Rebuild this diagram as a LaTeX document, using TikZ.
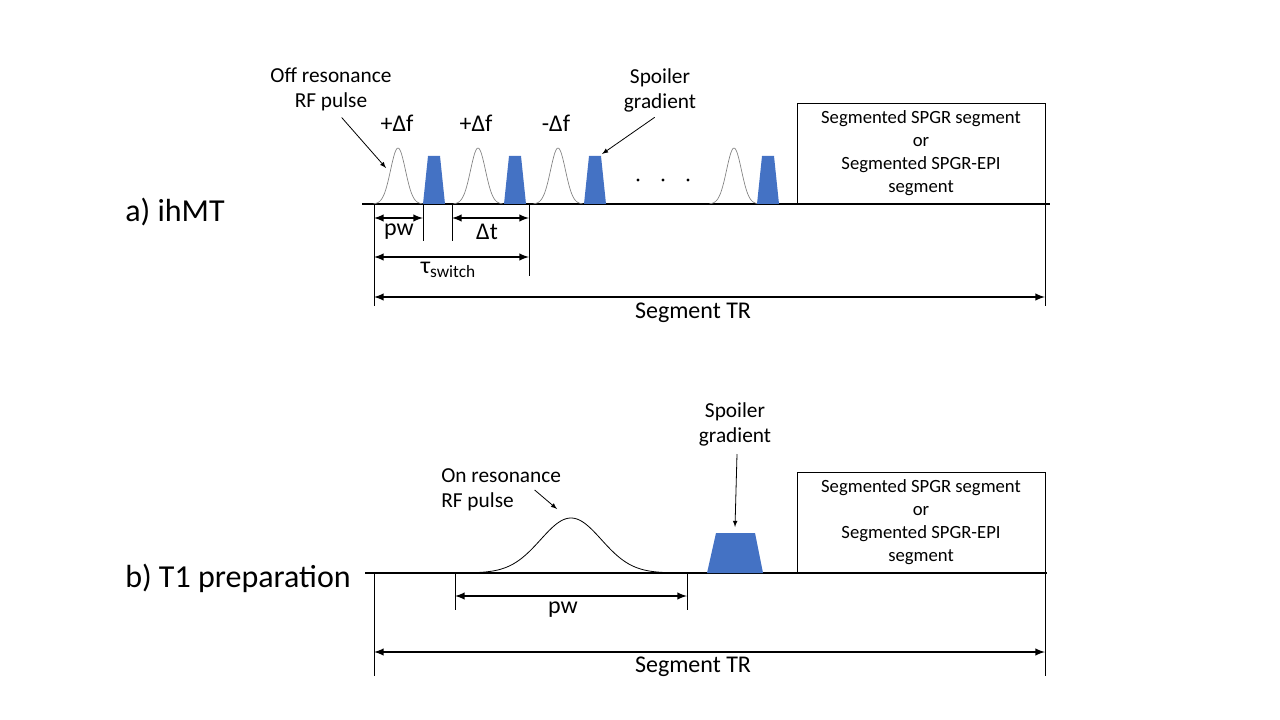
\documentclass[tikz,border=0pt]{standalone}
\usepackage{fontspec}
\setmainfont{Carlito}
\usetikzlibrary{positioning}
\definecolor{spblue}{HTML}{4472C4}

\begin{document}
\begin{tikzpicture}[x=0.75pt,y=-0.75pt]
\tikzset{
    rfpulse/.style  = {gray,line width=0.5pt},
    onpulse/.style  = {black,line width=0.6pt},
    spoiler/.style  = {fill=spblue,draw=none},
    axis/.style     = {line width=0.8pt},
    tick/.style     = {line width=0.6pt},
    dim/.style      = {<->,>=latex,line width=1.5pt},
    pointer/.style  = {->,>=latex,line width=0.6pt},
    lbl/.style      = {font=\fontsize{18}{21}\selectfont,inner sep=0pt,anchor=base},
    note/.style     = {font=\fontsize{16}{18.75}\selectfont,inner sep=0pt,align=center},
    title/.style    = {font=\fontsize{24}{28}\selectfont,inner sep=0pt,anchor=base west},
    segbox/.style   = {draw,line width=0.6pt,minimum width=186pt,minimum height=75.75pt,
                        font=\fontsize{14}{17.25}\selectfont,align=center,inner sep=0pt}
}
\useasboundingbox (0,0) rectangle (1280,720);

%% a) ihMT
\node[title] (titlea) at (125,222) {a) ihMT};
\draw[axis] (362,204) -- (1050,204);

%% off resonance pulses and spoilers
\foreach \c in {398,478,558,734}
    \draw[rfpulse] plot[domain=-24.5:24.5,samples=50] ({\c+\x},{204-56*exp(-(\x/10.5)^2)});
\foreach \g [count=\i] in {434,515,595,768}
{
    \fill[spoiler] (\g-11,204) -- (\g-6,156) -- (\g+6,156) -- (\g+11,204) -- cycle;
    \coordinate (ga\i) at (\g+7,154);
}
\coordinate (pa1) at (386,168);
\foreach \x in {638,663,688}
    \fill (\x,180) circle (1.2pt);

\node[lbl] (dfa) at (397,132) {+Δf};
\node[lbl] (dfb) at (476,132) {+Δf};
\node[lbl] (dfc) at (556,132) {-Δf};

\node[note] (offres) at (331,89) {Off resonance\\RF pulse};
\draw[pointer] ([xshift=8pt,yshift=-5pt]offres.south) -- (pa1);
\node[note] (spoila) at (660,90) {Spoiler\\gradient};
\draw[pointer] ([xshift=-4pt,yshift=-4pt]spoila.south) -- (ga3);

\node[segbox] (boxa) at (921,153.5) {Segmented SPGR segment\\or\\Segmented SPGR-EPI\\segment};

%% timing marks
\coordinate (ta0) at (374,204);
\coordinate (ta1) at (423,204);
\coordinate (ta2) at (452,204);
\coordinate (ta3) at (529,204);
\coordinate (ta4) at (1045,204);
\draw[tick] (ta0) -- ++(0,102);
\draw[tick] (ta1) -- ++(0,37);
\draw[tick] (ta2) -- ++(0,37);
\draw[tick] (ta3) -- ++(0,72);
\draw[tick] (ta4) -- ++(0,102);

\draw[dim] ([yshift=-10.5pt]ta0) -- ([yshift=-10.5pt]ta1);
\draw[dim] ([yshift=-10.5pt]ta2) -- ([yshift=-10.5pt]ta3);
\draw[dim] ([yshift=-39.75pt]ta0) -- ([yshift=-39.75pt]ta3);
\draw[dim] ([yshift=-69.75pt]ta0) -- ([yshift=-69.75pt]ta4);
\node[lbl] (pwa) at (399,236) {pw};
\node[lbl] (dta) at (487,239) {Δt};
\node[lbl] (tswitch) at (448,273) {τ\raisebox{-0.35ex}{\fontsize{13}{15}\selectfont switch}};
\node[lbl] (tra) at (693,318) {Segment TR};

%% b) T1 preparation
\node[title] (titleb) at (125,587) {b) T1 preparation};
\draw[axis] (365,573) -- (1047,573);

\draw[onpulse] plot[domain=-116:116,samples=120] ({571+\x},{573-55*exp(-(\x/43)^2)});
\coordinate (pb1) at (557,509);
\fill[spoiler] (707,573) -- (716,533) -- (755,533) -- (763,573) -- cycle;
\coordinate (gb1) at (735,527);

\node[note] (spoilb) at (735,424) {Spoiler\\gradient};
\draw[pointer] ([xshift=1.5pt,yshift=-6pt]spoilb.south) -- (gb1);
\node[note,align=left,anchor=west] (onres) at (441,490) {On resonance\\RF pulse};
\draw[pointer] ([xshift=-20pt]onres.east) -- (pb1);

\node[segbox] (boxb) at (921,522.5) {Segmented SPGR segment\\or\\Segmented SPGR-EPI\\segment};

\coordinate (tb0) at (374,573);
\coordinate (tb1) at (455,573);
\coordinate (tb2) at (687,573);
\coordinate (tb3) at (1045,573);
\draw[tick] (tb0) -- ++(0,103);
\draw[tick] (tb1) -- ++(0,37);
\draw[tick] (tb2) -- ++(0,37);
\draw[tick] (tb3) -- ++(0,103);

\draw[dim] ([yshift=-17.25pt]tb1) -- ([yshift=-17.25pt]tb2);
\draw[dim] ([yshift=-59.25pt]tb0) -- ([yshift=-59.25pt]tb3);
\node[lbl] (pwb) at (563,613) {pw};
\node[lbl] (trb) at (693,672) {Segment TR};

\end{tikzpicture}
\end{document}
